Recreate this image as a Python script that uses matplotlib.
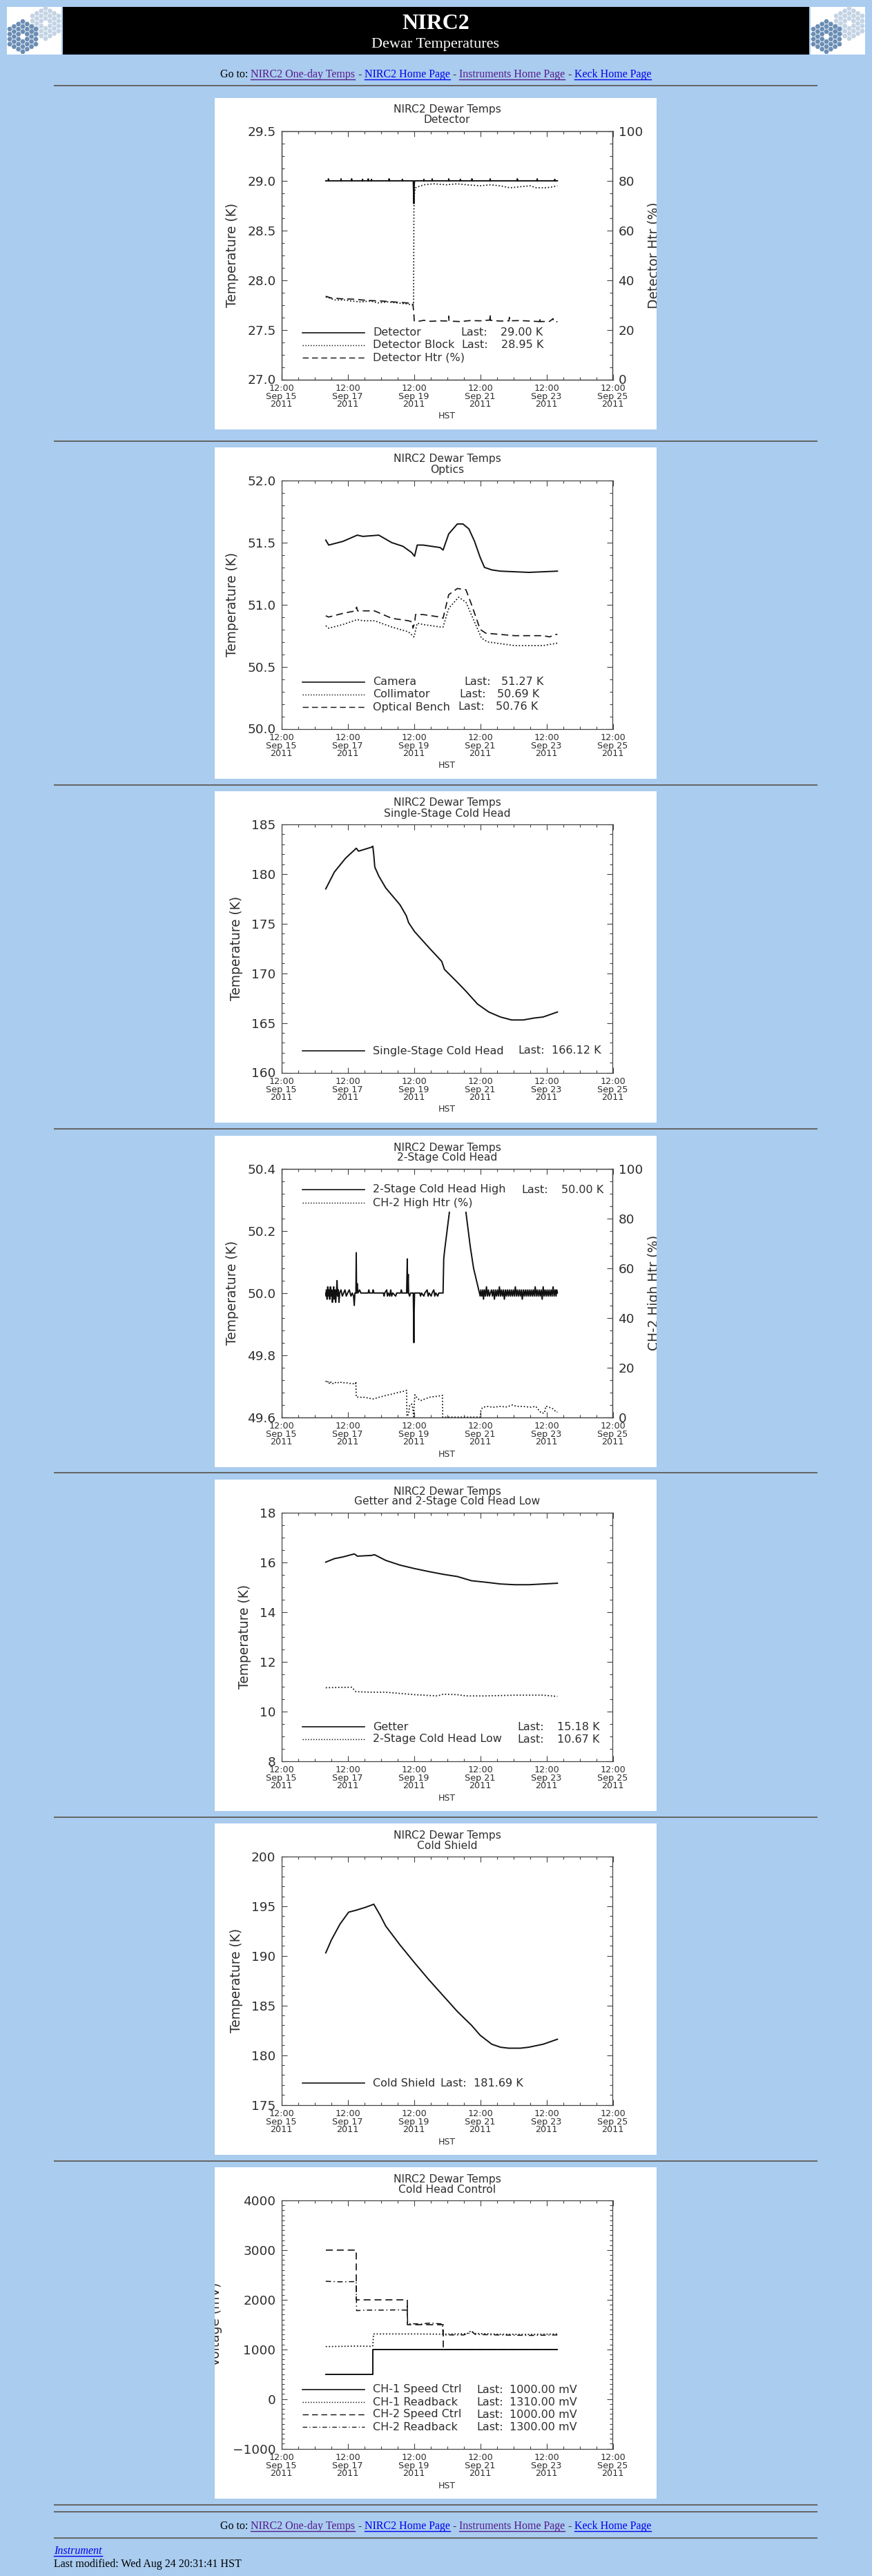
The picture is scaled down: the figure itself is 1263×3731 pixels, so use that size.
import datetime as dt
import numpy as np
import matplotlib
matplotlib.use("Agg")
import matplotlib.pyplot as plt
import matplotlib.dates as mdates
from matplotlib.patches import Rectangle, RegularPolygon
from matplotlib.ticker import FixedLocator, MultipleLocator, ScalarFormatter
from matplotlib.transforms import Bbox, TransformedBbox

plt.rcParams['font.family'] = ['DejaVu Sans']

# ============================ DATA ============================
# time values are days counted from 2011-09-15 12:00 HST
T0 = dt.datetime(2011, 9, 15, 12, 0)
X_TICK_DAYS = [0, 2, 4, 6, 8, 10]
X_RANGE = [0, 10]

# --- Panel 1: Detector
DETECTOR = [(1.34, 29.00), (1.42, 29.00), (1.42, 29.02), (1.43, 29.00), (1.80, 29.00), (1.80, 29.02),
            (1.81, 29.00), (2.12, 29.00), (2.12, 29.02), (2.13, 29.00), (2.45, 29.00), (2.45, 29.015),
            (2.46, 29.00), (2.62, 29.00), (2.62, 29.02), (2.63, 29.00), (2.72, 29.00), (2.72, 29.015),
            (2.73, 29.00), (3.25, 29.00), (3.25, 29.02), (3.26, 29.00), (3.65, 29.00), (3.65, 29.015),
            (3.66, 29.00), (3.98, 29.00), (3.99, 28.88), (4.00, 28.77), (4.01, 28.95), (4.02, 29.00),
            (4.30, 29.00), (4.30, 29.015), (4.31, 29.00), (4.55, 29.00), (4.55, 29.02), (4.56, 29.00),
            (5.05, 29.00), (5.05, 29.02), (5.06, 29.00), (5.40, 29.00), (5.40, 29.015), (5.41, 29.00),
            (5.75, 29.00), (5.75, 29.02), (5.76, 29.00), (6.30, 29.00), (6.30, 29.02), (6.31, 29.00),
            (7.12, 29.00), (7.12, 29.02), (7.13, 29.00), (7.72, 29.00), (7.72, 29.02), (7.73, 29.00),
            (8.25, 29.00), (8.25, 29.015), (8.26, 29.00), (8.33, 29.00)]
DET_BLOCK = [(1.34, 27.83), (1.45, 27.82), (1.60, 27.80), (1.90, 27.80), (2.10, 27.79), (2.40, 27.78),
             (2.70, 27.79), (2.90, 27.77), (3.20, 27.78), (3.50, 27.77), (3.80, 27.76), (3.95, 27.75),
             (3.99, 27.76), (4.00, 28.70), (4.01, 28.85), (4.04, 28.93), (4.30, 28.96), (4.60, 28.97),
             (5.00, 28.96), (5.30, 28.97), (5.60, 28.96), (6.00, 28.95), (6.30, 28.96), (6.60, 28.95),
             (6.90, 28.93), (7.20, 28.94), (7.50, 28.95), (7.70, 28.93), (8.00, 28.93), (8.20, 28.94),
             (8.33, 28.95)]
DET_HTR = [(1.34, 33.5), (1.50, 32.8), (1.80, 32.5), (2.20, 32.3), (2.60, 31.8), (3.00, 31.6),
           (3.40, 31.2), (3.80, 30.8), (3.97, 30.5), (4.00, 25.9), (4.01, 23.6), (4.10, 23.3),
           (4.30, 23.8), (4.50, 23.4), (4.80, 23.6), (5.04, 23.5), (5.05, 25.5), (5.06, 23.5),
           (5.40, 23.3), (5.70, 23.7), (6.00, 23.6), (6.29, 23.9), (6.30, 26.2), (6.31, 23.8),
           (6.60, 23.5), (6.87, 23.6), (6.88, 25.0), (6.89, 23.6), (7.20, 23.7), (7.50, 23.5),
           (7.79, 23.3), (7.80, 24.8), (7.81, 23.3), (8.10, 23.4), (8.20, 24.5), (8.21, 23.4),
           (8.33, 23.2)]
P1_NAMES = ['Detector', 'Detector Block', 'Detector Htr (%)']
P1_LAST = ['29.00 K', '28.95 K', None]

# --- Panel 2: Optics
CAMERA = [(1.34, 51.52), (1.43, 51.48), (1.86, 51.51), (2.29, 51.56), (2.46, 51.55), (2.94, 51.56),
          (3.33, 51.50), (3.67, 51.47), (3.93, 51.42), (4.02, 51.39), (4.10, 51.48), (4.28, 51.48),
          (4.79, 51.46), (4.88, 51.44), (5.05, 51.57), (5.31, 51.65), (5.48, 51.65), (5.66, 51.61),
          (5.83, 51.51), (6.00, 51.38), (6.13, 51.30), (6.35, 51.28), (6.61, 51.27), (7.47, 51.26),
          (8.33, 51.27)]
COLLIMATOR = [(1.34, 50.83), (1.43, 50.81), (1.86, 50.84), (2.29, 50.88), (2.46, 50.87), (2.81, 50.87),
              (3.33, 50.82), (3.84, 50.78), (4.00, 50.74), (4.02, 50.76), (4.10, 50.85), (4.28, 50.84),
              (4.79, 50.82), (4.88, 50.82), (5.05, 50.97), (5.35, 51.06), (5.57, 51.02), (5.83, 50.86),
              (6.04, 50.73), (6.22, 50.70), (7.04, 50.67), (7.90, 50.67), (8.33, 50.69)]
OPT_BENCH = [(1.34, 50.91), (1.43, 50.90), (1.86, 50.93), (2.24, 50.95), (2.27, 50.98), (2.30, 50.95),
             (2.81, 50.95), (3.33, 50.89), (3.84, 50.87), (3.95, 50.86), (3.97, 50.81), (4.02, 50.85),
             (4.05, 50.92), (4.28, 50.92), (4.79, 50.90), (4.88, 50.89), (5.05, 51.08), (5.31, 51.13),
             (5.57, 51.12), (5.74, 51.00), (6.00, 50.80), (6.17, 50.77), (7.04, 50.75), (7.90, 50.75),
             (8.10, 50.74), (8.25, 50.76), (8.33, 50.76)]
P2_NAMES = ['Camera', 'Collimator', 'Optical Bench']
P2_LAST = ['51.27 K', '50.69 K', '50.76 K']

# --- Panel 3: Single-Stage Cold Head
SS_COLD_HEAD = [(1.34, 178.5), (1.60, 180.2), (1.94, 181.6), (2.20, 182.4), (2.26, 182.6), (2.33, 182.3),
                (2.72, 182.7), (2.76, 182.8), (2.79, 181.9), (2.82, 180.7), (2.94, 179.8), (3.15, 178.6),
                (3.58, 176.9), (3.77, 175.8), (3.84, 175.1), (4.02, 174.2), (4.45, 172.6), (4.84, 171.2),
                (4.92, 170.4), (5.31, 169.1), (5.57, 168.2), (5.92, 166.9), (6.26, 166.1), (6.61, 165.6),
                (6.95, 165.3), (7.30, 165.3), (7.64, 165.5), (7.90, 165.6), (8.33, 166.1)]
P3_NAMES = ['Single-Stage Cold Head']
P3_LAST = ['166.12 K']

# --- Panel 4: 2-Stage Cold Head
CH2_HIGH = [(1.34, 50.00), (1.35, 49.99), (1.36, 50.01), (1.38, 49.98), (1.40, 50.02), (1.42, 49.99),
            (1.44, 50.01), (1.46, 49.98), (1.48, 50.02), (1.50, 49.99), (1.52, 50.01), (1.54, 49.97),
            (1.56, 50.00), (1.58, 50.02), (1.60, 49.98), (1.62, 50.01), (1.64, 49.97), (1.66, 50.00),
            (1.68, 50.04), (1.70, 49.99), (1.72, 50.01), (1.74, 49.97), (1.76, 50.00), (1.80, 50.01),
            (1.84, 49.99), (1.88, 50.00), (1.92, 50.01), (1.96, 49.99), (2.00, 50.00), (2.05, 50.01),
            (2.10, 49.99), (2.14, 50.00), (2.18, 49.99), (2.20, 49.96), (2.22, 50.00), (2.25, 50.00),
            (2.26, 50.13), (2.27, 50.00), (2.29, 50.03), (2.31, 50.00), (2.36, 50.01), (2.40, 50.00),
            (2.62, 50.00), (2.64, 50.01), (2.66, 50.00), (2.75, 50.00), (2.77, 50.01), (2.79, 50.00),
            (3.08, 50.00), (3.10, 49.99), (3.12, 50.00), (3.18, 50.01), (3.20, 49.99), (3.23, 50.00),
            (3.27, 49.99), (3.30, 50.01), (3.33, 49.99), (3.36, 50.00), (3.45, 49.99), (3.48, 50.00),
            (3.60, 50.00), (3.62, 50.01), (3.64, 50.00), (3.78, 50.00), (3.80, 50.11), (3.81, 50.00),
            (3.83, 50.06), (3.84, 50.00), (3.87, 49.99), (3.90, 50.00), (3.98, 50.00), (3.99, 49.93),
            (4.00, 49.84), (4.01, 49.95), (4.02, 50.00), (4.18, 50.00), (4.20, 49.99), (4.23, 50.00),
            (4.30, 49.99), (4.33, 50.00), (4.40, 50.01), (4.43, 49.99), (4.46, 50.00), (4.52, 49.99),
            (4.55, 50.00), (4.60, 50.01), (4.63, 49.99), (4.66, 50.00), (4.72, 49.99), (4.75, 50.00),
            (4.88, 50.00), (4.90, 50.11), (4.93, 50.14), (5.07, 50.26), (5.30, np.nan), (5.57, 50.26),
            (5.70, 50.15), (5.80, 50.08), (6.00, 49.99), (6.02, 50.01), (6.05, 49.99), (6.08, 50.01),
            (6.10, 49.98), (6.13, 50.01), (6.16, 49.99), (6.19, 50.02), (6.22, 49.99), (6.25, 50.01),
            (6.28, 49.99), (6.31, 50.00), (6.34, 50.01), (6.37, 49.99), (6.40, 50.01), (6.43, 49.98),
            (6.46, 50.01), (6.49, 49.99), (6.52, 50.01), (6.55, 49.99), (6.58, 50.02), (6.61, 49.99),
            (6.64, 50.01), (6.67, 49.99), (6.70, 50.01), (6.73, 49.98), (6.76, 50.01), (6.79, 49.99),
            (6.82, 50.01), (6.85, 49.99), (6.88, 50.01), (6.91, 49.99), (6.94, 50.01), (6.97, 49.99),
            (7.00, 50.01), (7.03, 49.99), (7.06, 50.02), (7.09, 49.99), (7.12, 50.01), (7.15, 49.99),
            (7.18, 50.01), (7.21, 49.99), (7.24, 50.01), (7.27, 49.98), (7.30, 50.01), (7.33, 49.99),
            (7.36, 50.01), (7.39, 49.99), (7.42, 50.01), (7.45, 49.99), (7.48, 50.01), (7.51, 49.99),
            (7.54, 50.01), (7.57, 49.99), (7.60, 50.01), (7.63, 49.99), (7.66, 50.02), (7.69, 49.99),
            (7.72, 50.01), (7.75, 49.99), (7.78, 50.01), (7.81, 49.99), (7.84, 50.01), (7.87, 49.98),
            (7.90, 50.02), (7.93, 49.99), (7.96, 50.01), (7.99, 49.99), (8.02, 50.01), (8.05, 49.99),
            (8.08, 50.01), (8.11, 49.99), (8.14, 50.01), (8.17, 49.99), (8.20, 50.02), (8.23, 49.99),
            (8.26, 50.01), (8.29, 49.99), (8.31, 50.01), (8.33, 50.00)]
CH2_HIGH_HTR = [(1.34, 14.6), (1.38, 13.8), (1.42, 14.5), (1.46, 13.3), (1.50, 14.2), (1.55, 13.5),
                (1.60, 14.1), (1.68, 13.6), (1.75, 14.2), (1.85, 13.8), (1.95, 13.9), (2.05, 13.6),
                (2.15, 13.5), (2.24, 13.3), (2.25, 14.3), (2.26, 8.1), (2.35, 8.0), (2.50, 8.0),
                (2.65, 7.6), (2.78, 7.3), (2.95, 8.0), (3.15, 8.7), (3.35, 9.3), (3.55, 10.0),
                (3.72, 10.5), (3.78, 10.8), (3.79, 0.3), (3.84, 1.2), (3.87, 4.6), (3.93, 5.3),
                (3.97, 3.4), (3.99, 0.2), (4.01, 5.2), (4.03, 9.0), (4.10, 7.6), (4.20, 6.6),
                (4.35, 7.4), (4.50, 8.1), (4.65, 8.3), (4.80, 8.6), (4.86, 8.8), (4.87, 0.0),
                (6.00, 0.0), (6.02, 2.6), (6.07, 3.9), (6.20, 4.3), (6.40, 4.0), (6.60, 4.3),
                (6.80, 4.1), (6.98, 4.9), (7.10, 4.3), (7.30, 4.3), (7.50, 4.0), (7.68, 4.3),
                (7.75, 3.1), (7.85, 1.6), (7.94, 1.7), (7.98, 4.4), (8.10, 3.9), (8.20, 3.3),
                (8.30, 2.0), (8.33, 2.1)]
P4_NAMES = ['2-Stage Cold Head High', 'CH-2 High Htr (%)']
P4_LAST = ['50.00 K', None]

# --- Panel 5: Getter and 2-Stage Cold Head Low
GETTER = [(1.34, 16.01), (1.60, 16.15), (1.86, 16.22), (2.20, 16.34), (2.25, 16.30), (2.29, 16.25),
          (2.72, 16.28), (2.81, 16.31), (3.15, 16.08), (3.58, 15.89), (4.02, 15.75), (4.45, 15.63),
          (4.88, 15.52), (5.31, 15.43), (5.74, 15.26), (6.17, 15.20), (6.61, 15.13), (7.04, 15.10),
          (7.47, 15.10), (7.90, 15.13), (8.33, 15.16)]
CH2_LOW = [(1.34, 10.95), (2.12, 10.97), (2.25, 10.79), (2.72, 10.77), (3.15, 10.77), (3.58, 10.72),
           (4.02, 10.67), (4.71, 10.62), (4.88, 10.69), (5.31, 10.67), (5.57, 10.62), (6.17, 10.62),
           (7.04, 10.65), (7.90, 10.65), (8.33, 10.60)]
P5_NAMES = ['Getter', '2-Stage Cold Head Low']
P5_LAST = ['15.18 K', '10.67 K']

# --- Panel 6: Cold Shield
COLD_SHIELD = [(1.34, 190.3), (1.51, 191.6), (1.77, 193.2), (2.03, 194.4), (2.26, 194.6), (2.55, 194.9),
               (2.79, 195.2), (2.98, 194.1), (3.15, 193.0), (3.58, 191.1), (4.02, 189.3), (4.45, 187.6),
               (4.88, 186.0), (5.31, 184.4), (5.74, 183.0), (6.00, 182.0), (6.35, 181.1), (6.61, 180.8),
               (6.86, 180.7), (7.21, 180.7), (7.47, 180.8), (7.90, 181.1), (8.33, 181.6)]
P6_NAMES = ['Cold Shield']
P6_LAST = ['181.69 K']

# --- Panel 7: Cold Head Control (mV)
CH1_SPEED = [(1.34, 500), (2.76, 500), (2.76, 1000), (8.33, 1000)]
CH1_READ = [(1.34, 1055), (1.80, 1060), (2.30, 1065), (2.74, 1060), (2.76, 1070), (2.78, 1310),
            (4.00, 1310), (4.90, 1305), (5.60, 1315), (5.72, 1370), (5.85, 1320), (6.50, 1305),
            (7.50, 1300), (8.33, 1310)]
CH2_SPEED = [(1.34, 3000), (2.26, 3000), (2.26, 2000), (3.80, 2000), (3.80, 1500), (4.88, 1500),
             (4.88, 1000), (8.33, 1000)]
CH2_READ = [(1.34, 2370), (1.80, 2360), (2.24, 2365), (2.26, 2360), (2.27, 1780), (2.60, 1790),
            (3.00, 1790), (3.50, 1795), (3.78, 1790), (3.80, 1900), (3.81, 1520), (4.20, 1510),
            (4.50, 1530), (4.86, 1510), (4.88, 1290), (5.50, 1290), (5.70, 1330), (5.76, 1350),
            (5.85, 1300), (6.50, 1290), (7.50, 1280), (8.33, 1290)]
P7_NAMES = ['CH-1 Speed Ctrl', 'CH-1 Readback', 'CH-2 Speed Ctrl', 'CH-2 Readback']
P7_LAST = ['1000.00 mV', '1310.00 mV', '1000.00 mV', '1300.00 mV']

# page texts
GOTO_LINKS = ['NIRC2 One-day Temps', 'NIRC2 Home Page', 'Instruments Home Page', 'Keck Home Page']
GOTO_VISITED = [True, False, True, False]

# ============================ LAYOUT ============================
W, H, DPI = 1263, 3731, 100
BG = '#A9CCEF'
INK = '#2e2e2e'
LINE = '#111111'
LINK = '#0000EE'
VISITED = '#551A8B'
SERIF = ['Liberation Serif', 'DejaVu Serif']

fig = plt.figure(figsize=(W / DPI, H / DPI), dpi=DPI)
fig.patch.set_facecolor(BG)
page = fig.add_axes([0, 0, 1, 1], zorder=0)
page.set_xlim(0, W)
page.set_ylim(H, 0)
page.axis('off')
renderer = fig.canvas.get_renderer()


def fy(y):
    return 1 - y / H


def to_dates(days):
    return [T0 + dt.timedelta(days=float(d)) for d in days]


def split(pairs):
    return to_dates([p[0] for p in pairs]), [p[1] for p in pairs]


STY = {
    'solid': dict(ls='-', lw=1.4),
    'dot': dict(ls=(0, (1.0, 1.6)), lw=1.25),
    'dash': dict(ls=(0, (6.0, 3.5)), lw=1.2),
    'dashdot': dict(ls=(0, (5.0, 2.5, 1.0, 2.5)), lw=1.1),
}

# ---------- header ----------
def draw_logo(x0):
    page.add_patch(Rectangle((x0, 10), 79, 69, color='white', lw=0, zorder=1))
    s = 4.2
    for (cx, cy), col in (((x0 + 56, 34), '#C3D3E4'), ((x0 + 23, 53), '#6A8DB4')):
        for q in range(-3, 4):
            for r in range(-3, 4):
                d = max(abs(q), abs(r), abs(q + r))
                if d == 0 or d > 3:
                    continue
                hx = cx + 1.5 * s * q
                hy = cy + np.sqrt(3) * s * (r + q / 2)
                page.add_patch(RegularPolygon((hx, hy), 6, radius=3.7, orientation=np.pi / 6,
                                              color=col, lw=0, zorder=2))


draw_logo(10)
draw_logo(1174)
page.add_patch(Rectangle((91, 10), 1081, 69, color='black', lw=0, zorder=1))
page.text(631, 42, 'NIRC2', color='white', fontsize=23, family=SERIF, weight='bold',
          ha='center', va='baseline', zorder=3)
page.text(631, 69, 'Dewar Temperatures', color='white', fontsize=16, family=SERIF,
          ha='center', va='baseline', zorder=3)


def measure(s, **kw):
    t = page.text(0, 0, s, **kw)
    w = t.get_window_extent(renderer).width
    t.remove()
    return w


def goto_row(y_base):
    kw = dict(fontsize=11.5, family=SERIF)
    pieces = [('Go to:', 'black', False)]
    for i, (name, vis) in enumerate(zip(GOTO_LINKS, GOTO_VISITED)):
        if i > 0:
            pieces.append(('-', 'black', False))
        pieces.append((name, VISITED if vis else LINK, True))
    widths = [measure(p[0], **kw) for p in pieces]
    sp = measure('x x', **kw) - measure('xx', **kw)
    total = sum(widths) + sp * (len(pieces) - 1)
    x = 631 - total / 2
    for (s, c, ul), w in zip(pieces, widths):
        page.text(x, y_base, s, color=c, ha='left', va='baseline', **kw)
        if ul:
            page.plot([x, x + w], [y_base + 2.5, y_base + 2.5], color=c, lw=1.0)
        x += w + sp


goto_row(112)
goto_row(3663)

for y in [124, 639, 1137, 1635, 2133, 2632, 3130, 3628, 3638, 3676]:
    page.add_patch(Rectangle((78, y - 1), 1106, 2, color='#666666', lw=0))

w_instr = measure('Instrument', fontsize=11.5, family=SERIF, style='italic')
page.text(78, 3699, 'Instrument', color=LINK, fontsize=11.5, family=SERIF, style='italic',
          ha='left', va='baseline')
page.plot([78, 78 + w_instr], [3702, 3702], color=LINK, lw=1.0)
page.text(78, 3718, 'Last modified: Wed Aug 24 20:31:41 HST', color='black', fontsize=11.5,
          family=SERIF, ha='left', va='baseline')

# ---------- panels ----------
PX0, PW, PH = 311, 640, 480
AX_L, AX_R, AX_TOP, AX_BOT = 407.5, 887.5, 48, 407.5
AX_HPX = AX_BOT - AX_TOP
LEG_LINE = (0.0635, 0.251)
LEG_TEXT_X = 0.276


def off2frac(off):
    return (AX_BOT - off) / AX_HPX


def style_y(axis_ax, lim, major, nminor):
    axis_ax.set_ylim(*lim)
    axis_ax.yaxis.set_major_locator(MultipleLocator(major))
    axis_ax.yaxis.set_minor_locator(MultipleLocator(major / nminor))
    axis_ax.yaxis.set_major_formatter(ScalarFormatter(useOffset=False))


def make_panel(top, subtitle, ylim, ymaj, ynmin, series, names, lasts, row_offs, last_cols,
               ylabel='Temperature (K)', right=None, ylabelpad=8.5):
    page.add_patch(Rectangle((PX0, top), PW, PH, color='white', lw=0, zorder=1))
    ax = fig.add_axes([AX_L / W, fy(top + AX_BOT), (AX_R - AX_L) / W, AX_HPX / H])
    ax.set_zorder(2)
    ax.set_facecolor('white')
    ax.set_xlim(to_dates(X_RANGE))
    ax.xaxis.set_major_locator(FixedLocator(mdates.date2num(to_dates(X_TICK_DAYS))))
    ax.xaxis.set_minor_locator(mdates.HourLocator(byhour=[0, 12]))
    ax.xaxis.set_major_formatter(mdates.DateFormatter('%H:%M\n%b %d\n%Y'))
    style_y(ax, ylim, ymaj, ynmin)
    for sp in ax.spines.values():
        sp.set_color('#444444')
        sp.set_linewidth(0.9)
    ax.tick_params(which='both', direction='in', top=True, right=(right is None),
                   color='#444444', width=0.8, labelcolor=INK)
    ax.tick_params(which='major', length=5.8)
    ax.tick_params(which='minor', length=2.9)
    ax.tick_params(axis='y', labelsize=13.3, pad=5.8)
    ax.tick_params(axis='x', labelsize=9.2, pad=5.0)
    ax.set_ylabel(ylabel, fontsize=13.4, color=INK, labelpad=ylabelpad)
    clip = TransformedBbox(Bbox.from_extents(PX0 / W, fy(top + PH), (PX0 + PW) / W, fy(top)),
                           fig.transFigure)
    ax.yaxis.label.set_clip_box(clip)

    ax2 = None
    if right is not None:
        rlabel, rlim, rmaj, rnmin = right
        ax2 = ax.twinx()
        ax2.set_zorder(3)
        style_y(ax2, rlim, rmaj, rnmin)
        ax2.tick_params(which='both', direction='in', color='#444444', width=0.8, labelcolor=INK)
        ax2.tick_params(which='major', length=5.8)
        ax2.tick_params(which='minor', length=2.9)
        ax2.tick_params(axis='y', labelsize=13.3, pad=5.8)
        for sp in ax2.spines.values():
            sp.set_color('#444444')
            sp.set_linewidth(0.9)
        ax2.set_ylabel(rlabel, fontsize=13.4, color=INK, labelpad=5)
        ax2.yaxis.label.set_clip_box(clip)

    for pairs, style, side in series:
        tx, vy = split(pairs)
        target = ax2 if side == 'R' else ax
        target.plot(tx, vy, color=LINE, **STY[style])

    ax.text(0.5, off2frac(17), 'NIRC2 Dewar Temps', transform=ax.transAxes, ha='center',
            va='center', fontsize=11.2, color=INK)
    ax.text(0.5, off2frac(32), subtitle, transform=ax.transAxes, ha='center',
            va='center', fontsize=11.2, color=INK)
    ax.text(0.5, off2frac(461), 'HST', transform=ax.transAxes, ha='center', va='center',
            fontsize=9, color=INK)

    for i, (name, last) in enumerate(zip(names, lasts)):
        yf = off2frac(row_offs[i])
        style = series[i][1]
        ax.plot(LEG_LINE, [yf, yf], transform=ax.transAxes, color=LINE, clip_on=False,
                ls=STY[style]['ls'], lw=STY[style]['lw'] * 0.85)
        ax.text(LEG_TEXT_X, yf, name, transform=ax.transAxes, ha='left', va='center',
                fontsize=11.5, color=INK)
        if last is not None:
            lx, vx = last_cols[i]
            ax.text(lx, yf, 'Last:', transform=ax.transAxes, ha='left', va='center',
                    fontsize=11.5, color=INK)
            ax.text(vx, yf, last, transform=ax.transAxes, ha='left', va='center',
                    fontsize=11.5, color=INK)
    return ax, ax2


PANEL_TOPS = [142, 648, 1146, 1645, 2143, 2641, 3139]
axes_all = []

axes_all.append(make_panel(
    PANEL_TOPS[0], 'Detector', (27.0, 29.5), 0.5, 4,
    [(DETECTOR, 'solid', 'L'), (DET_BLOCK, 'dot', 'L'), (DET_HTR, 'dash', 'R')],
    P1_NAMES, P1_LAST, [340, 358, 376], [(0.542, 0.661), (0.544, 0.663), None],
    right=('Detector Htr (%)', (0, 100), 20, 4)))

axes_all.append(make_panel(
    PANEL_TOPS[1], 'Optics', (50.0, 52.0), 0.5, 5,
    [(CAMERA, 'solid', 'L'), (COLLIMATOR, 'dot', 'L'), (OPT_BENCH, 'dash', 'L')],
    P2_NAMES, P2_LAST, [340, 358, 376], [(0.551, 0.664), (0.538, 0.651), (0.534, 0.647)]))

axes_all.append(make_panel(
    PANEL_TOPS[2], 'Single-Stage Cold Head', (160, 185), 5, 5,
    [(SS_COLD_HEAD, 'solid', 'L')],
    P3_NAMES, P3_LAST, [376], [(0.715, 0.815)]))

axes_all.append(make_panel(
    PANEL_TOPS[3], '2-Stage Cold Head', (49.6, 50.4), 0.2, 5,
    [(CH2_HIGH, 'solid', 'L'), (CH2_HIGH_HTR, 'dot', 'R')],
    P4_NAMES, P4_LAST, [78, 97], [(0.725, 0.844), None],
    right=('CH-2 High Htr (%)', (0, 100), 20, 4)))

axes_all.append(make_panel(
    PANEL_TOPS[4], 'Getter and 2-Stage Cold Head Low', (8, 18), 2, 4,
    [(GETTER, 'solid', 'L'), (CH2_LOW, 'dot', 'L')],
    P5_NAMES, P5_LAST, [358, 376], [(0.7125, 0.832), (0.7125, 0.832)]))

axes_all.append(make_panel(
    PANEL_TOPS[5], 'Cold Shield', (175, 200), 5, 5,
    [(COLD_SHIELD, 'solid', 'L')],
    P6_NAMES, P6_LAST, [376], [(0.479, 0.581)]))

axes_all.append(make_panel(
    PANEL_TOPS[6], 'Cold Head Control', (-1000, 4000), 1000, 10,
    [(CH1_SPEED, 'solid', 'L'), (CH1_READ, 'dot', 'L'), (CH2_SPEED, 'dash', 'L'),
     (CH2_READ, 'dashdot', 'L')],
    P7_NAMES, P7_LAST, [322, 340, 358, 376], [(0.590, 0.688)] * 4,
    ylabel='Voltage (mV)', ylabelpad=10.5))

fig.canvas.draw()
for ax, ax2 in axes_all:
    for lbl in ax.get_xticklabels():
        lbl.set_linespacing(0.82)

fig.savefig('out.png', dpi=DPI, facecolor=BG)
